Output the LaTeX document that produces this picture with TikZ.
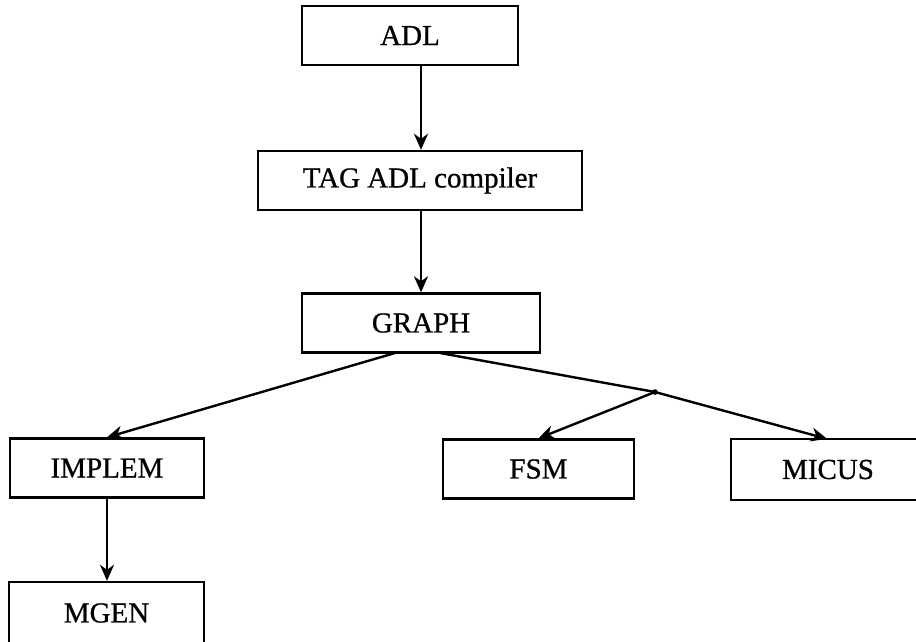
\documentclass[tikz,border=0pt]{standalone}
\usepackage{fontspec}
\setmainfont{Liberation Serif}[FakeBold=0.8]
\usetikzlibrary{arrows.meta}
\begin{document}
\begin{tikzpicture}[x=1pt,y=-1pt,
  blk/.style={draw,line width=2.4pt,inner sep=0pt,minimum height=59pt,
    font=\fontsize{29}{33}\selectfont},
  arr/.style={line width=2.4pt,-{Stealth[length=16pt,width=14pt,inset=5pt]}},
  wire/.style={line width=2.4pt}]
\useasboundingbox (0,0) rectangle (916,641);
% boxes
\node[blk,minimum width=216pt] (adl)    at (410,35.5)  {ADL};
\node[blk,minimum width=324pt] (tag)    at (420,180.5) {TAG ADL compiler};
\node[blk,minimum width=238pt] (graph)  at (421,323)   {GRAPH};
\node[blk,minimum width=194pt] (implem) at (107,468)   {IMPLEM};
\node[blk,minimum width=191pt] (fsm)    at (538.5,469) {FSM};
\node[blk,draw=none,minimum width=192pt] (micus) at (828,469.5) {MICUS};
\node[blk,minimum width=195pt,minimum height=62pt] (mgen) at (106.5,613) {MGEN};
% the MICUS box runs past the right edge
\draw[wire] ([xshift=30pt]micus.north east) -- (micus.north west)
  -- (micus.south west) -- ([xshift=30pt]micus.south east);
% helper points
\coordinate (spine) at (421,0);
\coordinate (gl) at (395,353);
\coordinate (gr) at (440,353);
\coordinate (split) at (655,392);
\coordinate (mtip) at (827,0);
% connectors
\draw[arr] (adl.south -| spine) -- (tag.north -| spine);
\draw[arr] (tag.south -| spine) -- (graph.north -| spine);
\draw[arr] (gl) -- (implem.north);
\draw[wire] (gr) -- (split);
\draw[arr] (split) -- (fsm.north);
\draw[arr] (split) -- (micus.north -| mtip);
\fill (split) circle (2.8pt);
\draw[arr] (implem.south) -- (mgen.north -| implem.south);
\end{tikzpicture}
\end{document}
